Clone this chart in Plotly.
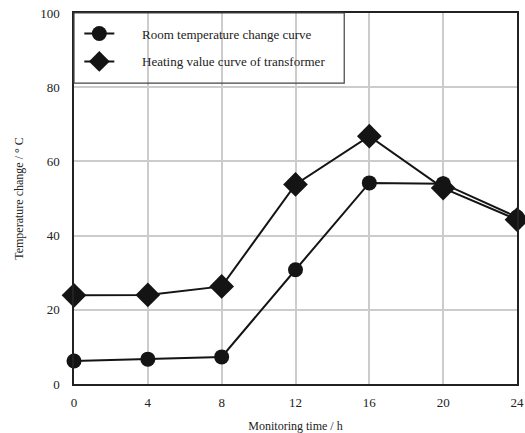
import plotly.graph_objects as go

hours = [0, 4, 8, 12, 16, 20, 24]
room_temp = [6.2, 6.7, 7.3, 30.8, 54.2, 54.0, 45.0]
heating = [23.9, 24.0, 26.3, 53.8, 66.8, 52.8, 44.3]
x_ticks = [0, 4, 8, 12, 16, 20, 24]
y_ticks = [0, 20, 40, 60, 80, 100]
names = ["Room temperature change curve", "Heating value curve of transformer"]

FONT = "Liberation Serif, Times New Roman, serif"
INK = "#141414"
PAD = "\u00a0" * 7

fig = go.Figure()
fig.add_trace(go.Scatter(
    x=hours, y=room_temp, mode="lines+markers", name=PAD + names[0],
    line=dict(color=INK, width=2), marker=dict(symbol="circle", size=15, color=INK),
    legendgroup="a", cliponaxis=False))
fig.add_trace(go.Scatter(
    x=hours, y=heating, mode="lines+markers", name=PAD + names[1],
    line=dict(color=INK, width=2), marker=dict(symbol="diamond", size=19, color=INK),
    legendgroup="b", cliponaxis=False))

fig.update_layout(
    width=525, height=433,
    margin=dict(l=74, r=8, t=13, b=49),
    paper_bgcolor="white", plot_bgcolor="white",
    font=dict(family=FONT, size=12, color="#222"),
    showlegend=True,
    legend=dict(x=0.012, y=0.985, xanchor="left", yanchor="top",
                bgcolor="rgba(0,0,0,0)", borderwidth=0,
                font=dict(family=FONT, size=13, color="#222"),
                tracegroupgap=8, traceorder="grouped"),
    shapes=[dict(type="rect", xref="paper", yref="paper", x0=0, x1=0.61, y0=0.811, y1=1,
                 line=dict(color="#444", width=1.2), fillcolor="rgba(0,0,0,0)", layer="above")],
)
fig.update_xaxes(range=[0, 24], tickvals=x_ticks, showgrid=True, gridcolor="#cccccc", gridwidth=1.5,
                 showline=True, linecolor="#222", linewidth=1.5, mirror=True, ticks="",
                 zeroline=False, ticklabelstandoff=6, ticklabeloverflow="allow", automargin=False,
                 tickfont=dict(family=FONT, size=13, color="#222"),
                 title=dict(text="Monitoring time / h", font=dict(family=FONT, size=12, color="#222"), standoff=16))
fig.update_yaxes(range=[0, 100], tickvals=y_ticks, showgrid=True, gridcolor="#cccccc", gridwidth=1.5,
                 showline=True, linecolor="#222", linewidth=1.5, mirror=True, ticks="",
                 zeroline=False, ticklabelstandoff=10, automargin=False,
                 tickfont=dict(family=FONT, size=13, color="#222"),
                 title=dict(text="Temperature change / ° C", font=dict(family=FONT, size=12, color="#222"), standoff=14))

fig.write_html("out.html", config={"displayModeBar": False},
               post_script="document.body.style.margin='0';document.body.style.overflow='hidden';")
